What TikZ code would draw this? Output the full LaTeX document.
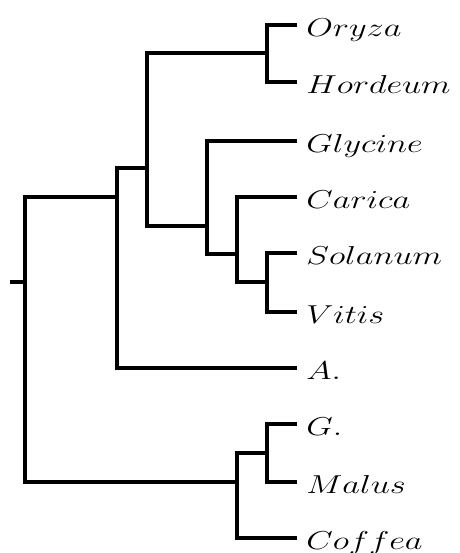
\documentclass[tikz,border=0pt]{standalone}
\usepackage{tikz}

\newcommand{\genus}[1]{\scalebox{1.43}[1.08]{$#1$}}

\begin{document}
\begin{tikzpicture}[
  x=0.5pt,y=-0.5pt,
  branch/.style={line width=1.6pt, draw=black},
  taxon/.style={anchor=base west, inner sep=0pt, font=\large}
]
\useasboundingbox (0,0) rectangle (460,553);

% internal nodes (where the parent branch comes in)
\coordinate (stub) at (10,282);
\coordinate (root) at (25,282);
\coordinate (angio) at (117,197);
\coordinate (core) at (147,168);
\coordinate (monocot) at (267,53);
\coordinate (rosid) at (207,226);
\coordinate (asterid) at (237,254);
\coordinate (sv) at (267,282);
\coordinate (basal) at (237,482);
\coordinate (gm) at (267,453);

% leaf tips
\coordinate (t-oryza) at (297,25);
\coordinate (t-hordeum) at (297,82);
\coordinate (t-glycine) at (297,141);
\coordinate (t-carica) at (297,197);
\coordinate (t-solanum) at (297,253);
\coordinate (t-vitis) at (297,312);
\coordinate (t-a) at (297,368);
\coordinate (t-g) at (297,424);
\coordinate (t-malus) at (297,482);
\coordinate (t-coffea) at (297,538);

\node[taxon] (oryza) at (306,36) {\genus{Oryza}};
\node[taxon] (hordeum) at (306,93) {\genus{Hordeum}};
\node[taxon] (glycine) at (306,152) {\genus{Glycine}};
\node[taxon] (carica) at (306,208) {\genus{Carica}};
\node[taxon] (solanum) at (306,264) {\genus{Solanum}};
\node[taxon] (vitis) at (306,323) {\genus{Vitis}};
\node[taxon] (a) at (306,379) {\genus{A.}};
\node[taxon] (g) at (306,435) {\genus{G.}};
\node[taxon] (malus) at (306,493) {\genus{Malus}};
\node[taxon] (coffea) at (306,549) {\genus{Coffea}};

\draw[branch] (stub) -- (root);
\draw[branch] (root) |- (angio);
\draw[branch] (root) |- (basal);
\draw[branch] (angio) |- (core);
\draw[branch] (angio) |- (t-a);
\draw[branch] (core) |- (monocot);
\draw[branch] (core) |- (rosid);
\draw[branch] (monocot) |- (t-oryza);
\draw[branch] (monocot) |- (t-hordeum);
\draw[branch] (rosid) |- (t-glycine);
\draw[branch] (rosid) |- (asterid);
\draw[branch] (asterid) |- (t-carica);
\draw[branch] (asterid) |- (sv);
\draw[branch] (sv) |- (t-solanum);
\draw[branch] (sv) |- (t-vitis);
\draw[branch] (basal) |- (gm);
\draw[branch] (basal) |- (t-coffea);
\draw[branch] (gm) |- (t-g);
\draw[branch] (gm) |- (t-malus);
\end{tikzpicture}
\end{document}
